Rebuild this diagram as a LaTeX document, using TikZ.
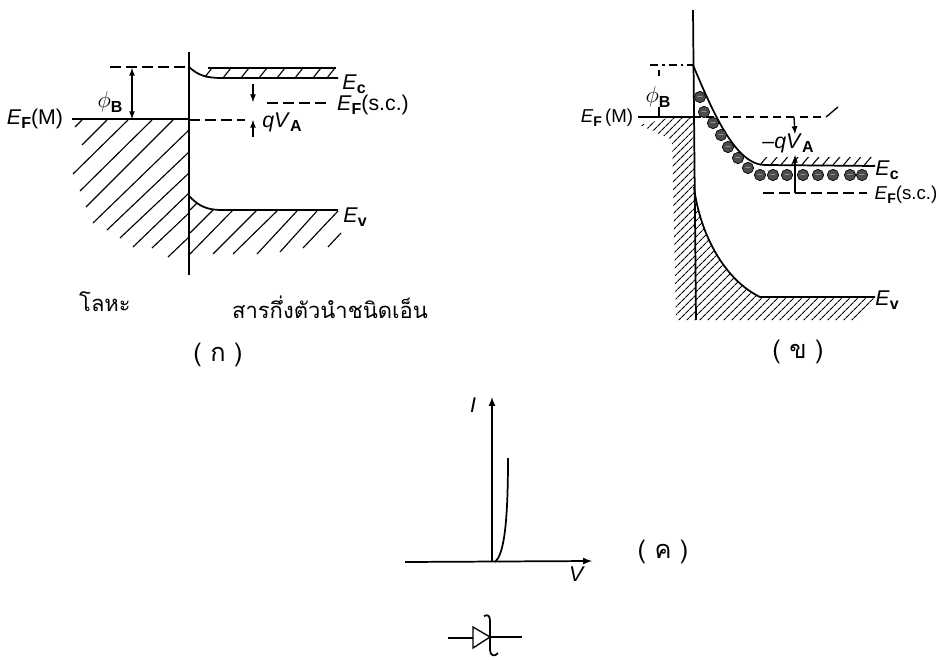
\documentclass[tikz,border=0pt]{standalone}
\usepackage{fontspec}
\setsansfont{Liberation Sans}
\newfontfamily\thaifont[Script=Thai]{Loma}
\usetikzlibrary{arrows,patterns.meta}
\newcommand{\En}[1]{\textit{E}\raisebox{-.2em}{\fontsize{.75em}{1em}\selectfont\textbf{#1}}}
\newcommand{\Sb}[1]{\raisebox{-.2em}{\fontsize{.75em}{1em}\selectfont\textbf{#1}}}
\tikzset{
  band/.style={line width=1.3pt},
  thin line/.style={line width=1pt},
  level/.style={line width=1pt,dash pattern=on 8pt off 4pt},
  hatch/.style={line width=.85pt},
  fine hatch/.style={draw=none,pattern={Lines[angle=45,distance=4pt,line width=.8pt]}},
  energy/.style={font=\sffamily\fontsize{16}{18}\selectfont,inner sep=0pt},
  small energy/.style={font=\sffamily\fontsize{14}{16}\selectfont,inner sep=0pt},
  thaitext/.style={font=\thaifont\fontsize{16.5}{20}\selectfont,inner sep=0pt},
  caption/.style={font=\thaifont\fontsize{19}{22}\selectfont,inner sep=0pt},
  electron/.style={circle,draw=black,fill=black!70,line width=.5pt,inner sep=0pt,minimum size=8.5pt,text=white,font=\tiny}
}
\begin{document}
\begin{tikzpicture}[x=.75pt,y=-.75pt,>=latex]
\useasboundingbox (0,0) rectangle (939,660);

% (k) metal / n-type contact
\draw[hatch] (75,127) -- (82,120);
\draw[hatch] (82,145) -- (107,120);
\draw[hatch] (73,174) -- (128,120);
\draw[hatch] (80,191) -- (152,120);
\draw[hatch] (86,207) -- (173,120);
\draw[hatch] (93,223) -- (189,130);
\draw[hatch] (107,230) -- (189,152);
\draw[hatch] (120,238) -- (189,173);
\draw[hatch] (133,247) -- (189,193);
\draw[hatch] (152,248) -- (189,213);
\draw[hatch] (168,257) -- (189,237);

\draw[hatch] (190,210) -- (197,203);
\draw[hatch] (190,233) -- (213,210);
\draw[hatch] (190,254) -- (233,210);
\draw[hatch] (213,254) -- (257,210);
\draw[hatch] (233,254) -- (277,211);
\draw[hatch] (257,254) -- (297,211);
\draw[hatch] (280,252) -- (317,211);
\draw[hatch] (303,248) -- (338,211);
\draw[hatch] (328,247) -- (341,233);

\draw[hatch] (205,77) -- (212,68);
\draw[hatch] (223,78) -- (231,68);
\draw[hatch] (241,78) -- (249,68);
\draw[hatch] (259,78) -- (267,68);
\draw[hatch] (277,78) -- (285,68);
\draw[hatch] (295,78) -- (303,68);
\draw[hatch] (313,78) -- (321,68);
\draw[hatch] (327,78) -- (335,68);
\draw[thin line] (208,68) -- (336,68);

\draw[band] (189,52) -- (189,275);
\draw[band] (72,119) -- (189,119);
\draw[band] (189,67) .. controls (198,75) and (205,78) .. (222,78) -- (338,78);
\draw[band] (189,196) .. controls (198,205) and (205,210) .. (222,210) -- (338,210);
\draw[level] (110,67) -- (189,67);
\draw[level] (189,120) -- (245,120);
\draw[level] (267,103) -- (330,103);
\draw[thin line,<->] (132,68) -- (132,119);
\draw[thin line,->] (253,84) -- (253,102);
\draw[thin line,<-] (253,120) -- (253,137);

\node[energy] (ecA) at (354,84) {\En{c}};
\node[energy] (efscA) at (373,105) {\En{F}(s.c.)};
\node[energy] (efmA) at (35,119) {\En{F}(M)};
\node[energy] (qvA) at (282,122) {\textit{qV}\Sb{A}};
\node[energy] (phiA) at (110,102) {$\phi$\Sb{B}};
\node[energy] (evA) at (355,217) {\En{v}};
\node[thaitext] (metal) at (105,302) {โลหะ};
\node[thaitext] (semi) at (330,307) {สารกึ่งตัวนำชนิดเอ็น};
\node[caption] (capA) at (218,355) {( ก )};

% (kh) second contact
\fill[fine hatch] (640,125) -- (672,117) -- (693,117) -- (696,320) -- (676,320) -- (672,140) -- cycle;
\fill[fine hatch] (694,187) .. controls (700,235) and (725,280) .. (760,297) -- (875,297) -- (858,320) -- (696,320) -- cycle;
\fill[fine hatch,pattern={Lines[angle=50,distance=6pt,line width=.8pt]}] (760,157) -- (873,157) -- (875,166) -- (760,166) -- cycle;

\draw[band] (693,10) -- (696,320);
\draw[band] (638,117) -- (693,117);
\draw[band] (693,65) .. controls (712,110) and (735,165) .. (765,165) -- (875,166);
\draw[band] (694,187) .. controls (700,235) and (725,280) .. (760,297) -- (875,297);
\draw[level,dash pattern=on 6pt off 3pt on 2pt off 3pt] (650,65) -- (693,65);
\draw[level,dash pattern=on 6pt off 4pt] (693,117) -- (822,117);
\draw[level] (763,193) -- (867,193);
\draw[thin line] (826,117) -- (838,107);
\draw[thin line] (659,70) -- (659,76);
\draw[thin line] (659,107) -- (659,117);
\draw[thin line,->] (794,117) -- (795,134);
\draw[thin line,<-] (795,155) -- (795,193);

\node[electron] (e1) at (700,97) {$-$};
\node[electron] (e2) at (704,112) {$-$};
\node[electron] (e3) at (713,123) {$-$};
\node[electron] (e4) at (721,135) {$-$};
\node[electron] (e5) at (728,147) {$-$};
\node[electron] (e6) at (738,158) {$-$};
\node[electron] (e7) at (748,168) {$-$};
\node[electron] (e8) at (760,175) {$-$};
\node[electron] (e9) at (773,175) {$-$};
\node[electron] (e10) at (787,175) {$-$};
\node[electron] (e11) at (803,175) {$-$};
\node[electron] (e12) at (818,175) {$-$};
\node[electron] (e13) at (833,175) {$-$};
\node[electron] (e14) at (850,175) {$-$};
\node[electron] (e15) at (862,175) {$-$};

\node[small energy] (efmB) at (607,118) {\En{F}\,(M)};
\node[energy] (phiB) at (658,97) {$\phi$\Sb{B}};
\node[energy] (qvB) at (788,143) {--\textit{qV}\Sb{A}};
\node[energy] (ecB) at (887,170) {\En{c}};
\node[small energy] (efscB) at (906,195) {\En{F}(s.c.)};
\node[energy] (evB) at (887,300) {\En{v}};
\node[caption] (capB) at (798,352) {( ข )};

% (kh) I-V curve and symbol
\draw[band,->] (492,562) -- (492,397);
\draw[band,->] (405,562) -- (592,561);
\draw[band] (495,562) .. controls (503,555) and (508,530) .. (508,458);
\node[energy] (cur) at (473,405) {\textit{I}};
\node[energy] (vol) at (577,574) {\textit{V}};
\node[caption] (capC) at (663,552) {( ค )};

\draw[thin line] (448,638) -- (473,638);
\draw[thin line] (473,627) -- (473,648) -- (490,637) -- cycle;
\draw[thin line] (490,637) -- (522,637);
\draw[band] (484,616) .. controls (488,614) and (490,616) .. (490,621) -- (490,650) .. controls (490,656) and (495,657) .. (498,653);
\end{tikzpicture}
\end{document}
